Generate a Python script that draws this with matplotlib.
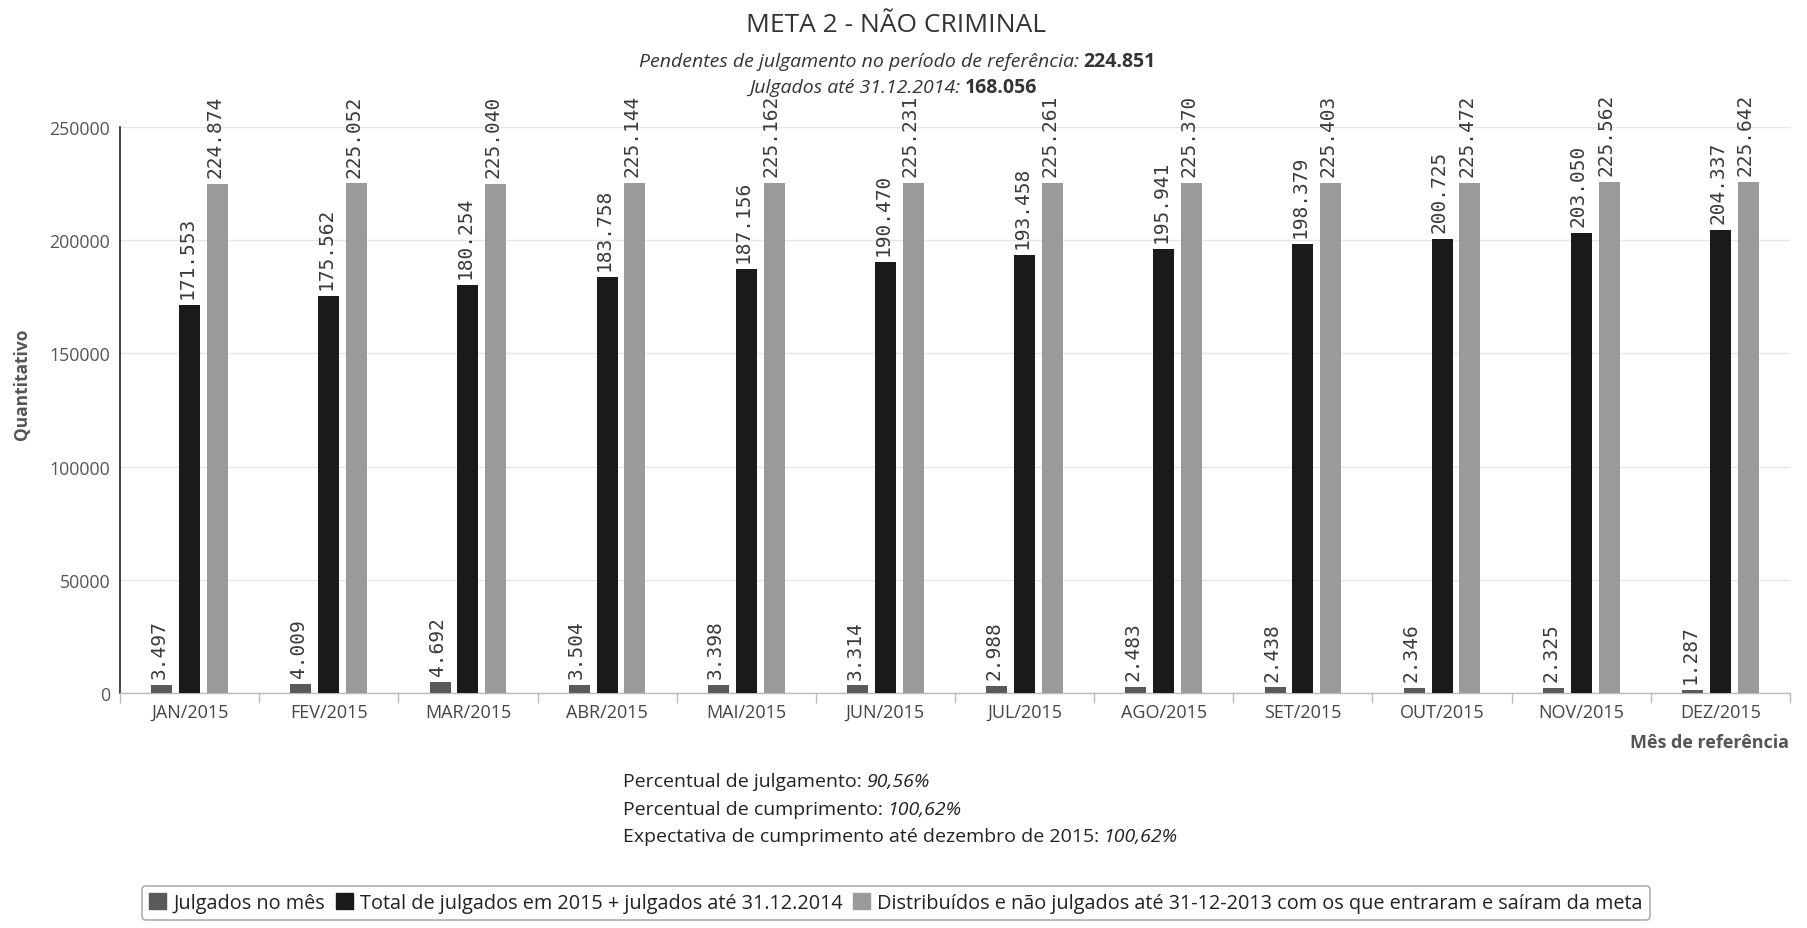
import matplotlib
matplotlib.use("Agg")
import matplotlib.pyplot as plt
import numpy as np
from matplotlib import font_manager
from matplotlib.patches import Patch

# ---- data -------------------------------------------------------------
months = ["JAN/2015", "FEV/2015", "MAR/2015", "ABR/2015", "MAI/2015", "JUN/2015",
          "JUL/2015", "AGO/2015", "SET/2015", "OUT/2015", "NOV/2015", "DEZ/2015"]
julgados_mes = [3497, 4009, 4692, 3504, 3398, 3314, 2988, 2483, 2438, 2346, 2325, 1287]
total_julgados = [171553, 175562, 180254, 183758, 187156, 190470,
                  193458, 195941, 198379, 200725, 203050, 204337]
distribuidos = [224874, 225052, 225040, 225144, 225162, 225231,
                225261, 225370, 225403, 225472, 225562, 225642]

series_names = ["Julgados no mês",
                "Total de julgados em 2015 + julgados até 31.12.2014",
                "Distribuídos e não julgados até 31-12-2013 com os que entraram e saíram da meta"]
series_colors = ["#5a5a5a", "#1a1a1a", "#9a9a9a"]

title = "META 2 - NÃO CRIMINAL"
pendentes = 224851
julgados_2014 = 168056
perc_julgamento = "90,56%"
perc_cumprimento = "100,62%"
expectativa = "100,62%"

# ---- fonts ------------------------------------------------------------
_installed = {f.name for f in font_manager.fontManager.ttflist}


def pick(cands, default):
    for c in cands:
        if c in _installed:
            return c
    return default


SANS = pick(["Open Sans", "Noto Sans", "Lato"], "DejaVu Sans")


def br(v):
    return f"{v:,}".replace(",", ".")


W, H = 1807, 929
fig = plt.figure(figsize=(W / 100, H / 100), dpi=100)
fig.patch.set_facecolor("white")

# plot area in pixels: x 120..1790, y 128..694 (from top)
ax = fig.add_axes([120 / W, (H - 694) / H, 1670 / W, 566 / H])

x = np.arange(len(months))
width = 0.15
offsets = [-0.2, 0.0, 0.2]
all_series = [julgados_mes, total_julgados, distribuidos]

for vals, off, col, name in zip(all_series, offsets, series_colors, series_names):
    bars = ax.bar(x + off, vals, width=width, color=col, label=name, zorder=3)
    for rect, v in zip(bars, vals):
        ax.annotate(br(v), (rect.get_x() + rect.get_width() / 2, rect.get_height()),
                    xytext=(-2, 5), textcoords="offset points", rotation=90,
                    ha="center", va="bottom", fontsize=14, color="#3a3a3a",
                    family="DejaVu Sans Mono", zorder=4)

ax.set_xlim(-0.5, len(months) - 0.5)
ax.set_ylim(0, 250000)
ax.set_yticks(np.arange(0, 250001, 50000))
ax.set_yticklabels([str(v) for v in range(0, 250001, 50000)])
ax.yaxis.grid(True, color="#e6e6e6", linewidth=1, zorder=0)
ax.set_axisbelow(True)

ax.set_xticks(x)
ax.set_xticklabels(months)
ax.set_xticks(np.arange(-0.5, len(months), 1.0), minor=True)
ax.tick_params(axis="x", which="major", length=0, pad=7, labelsize=13,
               labelcolor="#444444")
ax.tick_params(axis="x", which="minor", length=7, color="#bbbbbb", width=1)
ax.tick_params(axis="y", length=0, pad=7, labelsize=12.8, labelcolor="#555555")
for lab in ax.get_xticklabels() + ax.get_yticklabels():
    lab.set_family(SANS)

for s in ["top", "right"]:
    ax.spines[s].set_visible(False)
ax.spines["left"].set_color("#222222")
ax.spines["left"].set_linewidth(1.2)
ax.spines["bottom"].set_color("#bbbbbb")
ax.spines["bottom"].set_linewidth(1)

# axis titles
fig.text(22 / W, (H - 384) / H, "Quantitativo", rotation=90, ha="center", va="center",
         fontsize=12.5, fontweight="bold", family=SANS, color="#555555")
fig.text(1789 / W, (H - 743) / H, "Mês de referência", ha="right", va="center",
         fontsize=13, fontweight="bold", family=SANS, color="#555555")

# title block
fig.text(896 / W, (H - 26) / H, title, ha="center", va="center", fontsize=19,
         family=SANS, color="#333333")

renderer = fig.canvas.get_renderer()


def rich_line(x_px, y_px, parts, align="center", size=13, color="#333333"):
    texts, widths = [], []
    for s, style, weight in parts:
        t = fig.text(0, 0, s, transform=None, ha="left", va="center", fontsize=size,
                     family=SANS, style=style, fontweight=weight, color=color)
        texts.append(t)
        widths.append(t.get_window_extent(renderer).width)
    gap = size * 0.3
    total = sum(widths) + gap * (len(parts) - 1)
    x0 = x_px - total / 2 if align == "center" else x_px
    for t, w in zip(texts, widths):
        t.set_position((x0, H - y_px))
        x0 += w + gap


rich_line(897, 62, [("Pendentes de julgamento no período de referência:", "italic", "normal"),
                    (br(pendentes), "normal", "bold")], size=14)
rich_line(893, 88, [("Julgados até 31.12.2014:", "italic", "normal"),
                    (br(julgados_2014), "normal", "bold")], size=14)

# summary lines under the chart
rich_line(623, 782, [("Percentual de julgamento:", "normal", "normal"),
                     (perc_julgamento, "italic", "normal")], align="left", size=14,
          color="#222222")
rich_line(623, 810, [("Percentual de cumprimento:", "normal", "normal"),
                     (perc_cumprimento, "italic", "normal")], align="left", size=14,
          color="#222222")
rich_line(623, 837, [("Expectativa de cumprimento até dezembro de 2015:", "normal", "normal"),
                     (expectativa, "italic", "normal")], align="left", size=14,
          color="#222222")

# legend
handles = [Patch(facecolor=c, edgecolor=c) for c in series_colors]
leg = fig.legend(handles, series_names, ncol=3, loc="center",
                 bbox_to_anchor=(896 / W, (H - 904) / H), frameon=True, fancybox=True,
                 edgecolor="#999999", handlelength=0.85, handleheight=0.85,
                 handletextpad=0.35, columnspacing=0.55, borderpad=0.35,
                 prop={"family": SANS, "size": 14.3})
leg.get_frame().set_linewidth(1.2)
for t in leg.get_texts():
    t.set_color("#222222")

fig.savefig("out.png", dpi=100, facecolor="white")
